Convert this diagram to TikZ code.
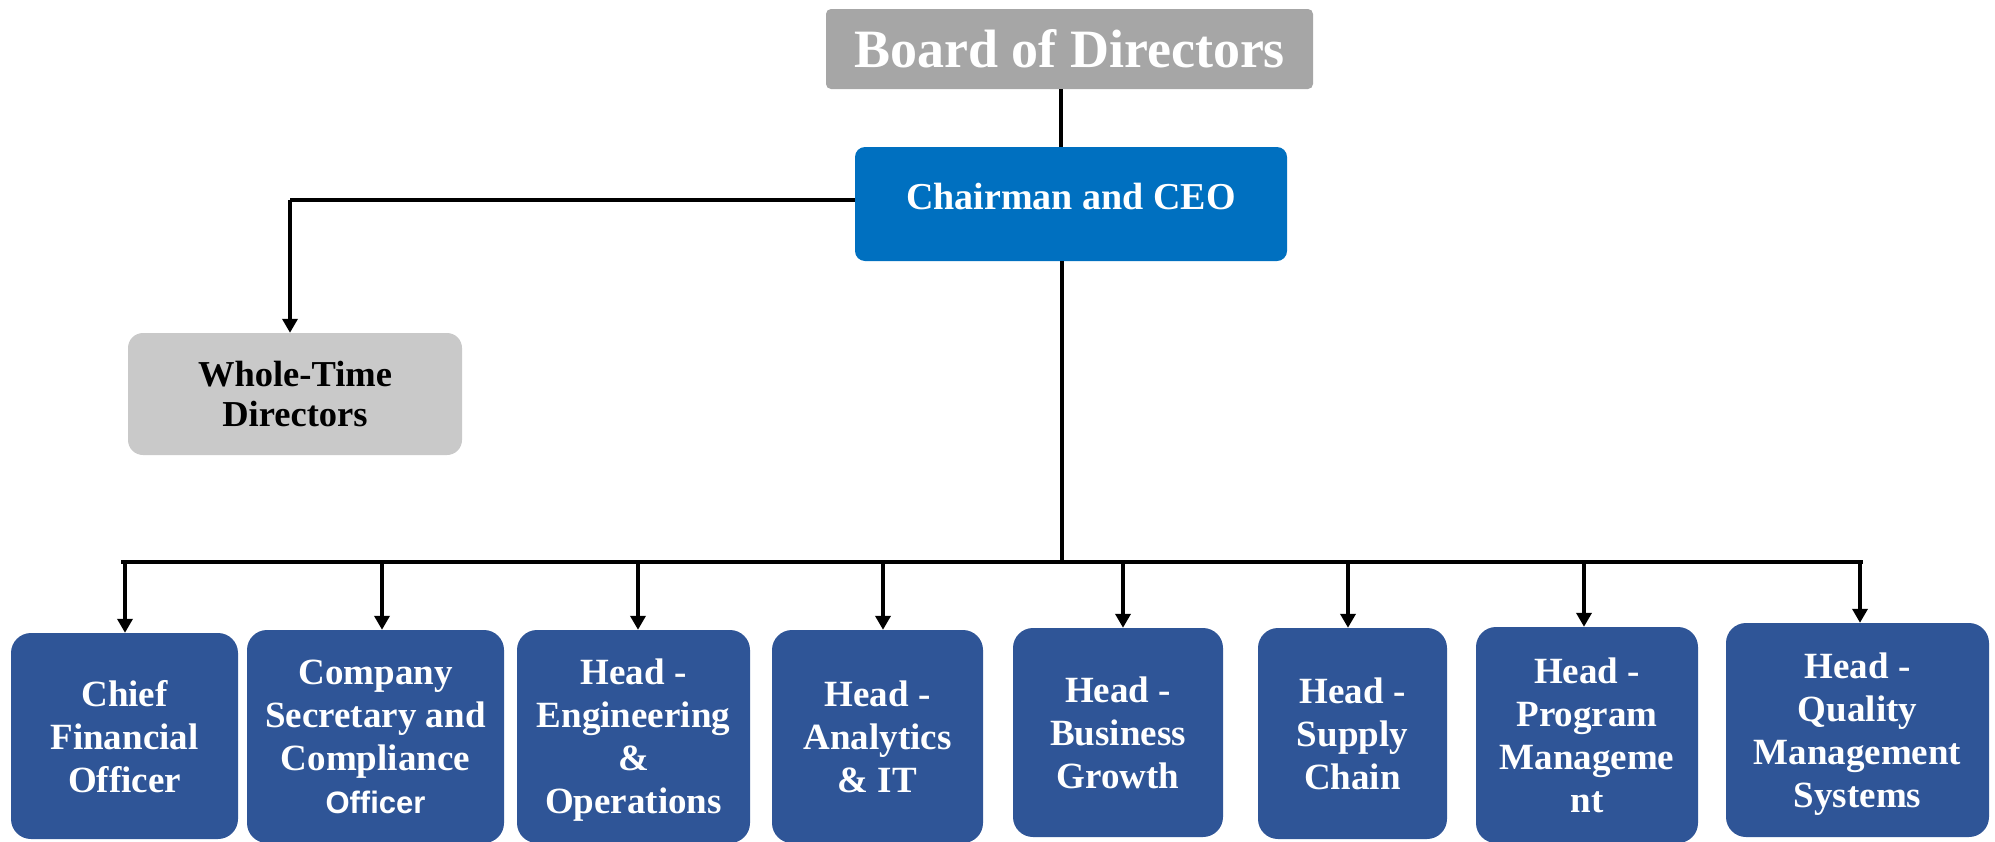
\documentclass[tikz,border=0pt]{standalone}
\usepackage{fontspec}
\setmainfont{Liberation Serif}
\newfontfamily\sansb{Liberation Sans}
\usetikzlibrary{arrows.meta}
\definecolor{bodgray}{HTML}{A6A6A6}
\definecolor{ceoblue}{HTML}{0070C0}
\definecolor{wtgray}{HTML}{C9C9C9}
\definecolor{boxblue}{HTML}{2F5597}
\begin{document}
\begin{tikzpicture}[x=1pt,y=-1pt,
  conn/.style={line width=3.5pt, black},
  arr/.style={conn, -{Triangle[width=15pt,length=14pt]}},
  role/.style={fill=boxblue, rounded corners=20pt, text=white, align=center, inner sep=0pt,
    text depth=0pt, font=\bfseries\fontsize{37}{43}\selectfont},
]
\useasboundingbox (0,0) rectangle (1995,841);
\clip (0,0) rectangle (1995,841);

% top
\node[fill=bodgray, rounded corners=5pt, minimum width=487pt, minimum height=80pt, inner sep=0pt,
  text=white, font=\bfseries\fontsize{54}{60}\selectfont] (bod) at (1069.5,49) {Board of Directors};
\node[fill=ceoblue, rounded corners=10pt, minimum width=432pt, minimum height=114pt, inner sep=0pt,
  text=white, text depth=16pt, font=\bfseries\fontsize{38}{44}\selectfont] (ceo) at (1071,204) {Chairman and CEO};
\node[fill=wtgray, rounded corners=15pt, minimum width=334pt, minimum height=122pt, inner sep=0pt,
  text=black, align=center, text depth=0pt, font=\bfseries\fontsize{36.5}{40}\selectfont] (wtd) at (295,394) {Whole-Time\\Directors};

% bottom row
\node[role, minimum width=227pt, minimum height=206pt] (cfo) at (124.5,736) {Chief\\Financial\\Officer};
\node[role, minimum width=257pt, minimum height=213pt] (cs) at (375.5,736.5) {Company\\Secretary and\\Compliance\\{\sansb\fontsize{31}{43}\selectfont Officer}};
\node[role, minimum width=233pt, minimum height=213pt] (eng) at (633.5,736.5) {Head -\\Engineering\\\&\\Operations};
\node[role, minimum width=211pt, minimum height=213pt] (ait) at (877.5,736.5) {Head -\\Analytics\\\& IT};
\node[role, minimum width=210pt, minimum height=209pt] (bg) at (1118,732.5) {Head -\\Business\\Growth};
\node[role, minimum width=189pt, minimum height=211pt] (sc) at (1352.5,733.5) {Head -\\Supply\\Chain};
\node[role, minimum width=222pt, minimum height=216pt] (pm) at (1587,735) {Head -\\Program\\Manageme\\nt};
\node[role, minimum width=263pt, minimum height=214pt] (qm) at (1857.5,730) {Head -\\Quality\\Management\\Systems};

% connectors
\coordinate (bodtap) at (1061,89);
\draw[conn] (bodtap) -- (bodtap |- ceo.north);
\coordinate (wtcorner) at (290,200);
\draw[conn] (ceo.west |- wtcorner) -- (wtcorner);
\draw[arr] (wtcorner) -- (wtcorner |- wtd.north);

\coordinate (busc) at (1062,562);
\coordinate (busl) at (123,562);
\coordinate (busr) at (1861,562);
\draw[conn] (ceo.south -| busc) -- (busc);
\draw[conn, line cap=rect] (busl) -- (busr);

\coordinate (b1) at (125,562);
\coordinate (b2) at (382,562);
\coordinate (b3) at (638,562);
\coordinate (b4) at (883,562);
\coordinate (b5) at (1123,562);
\coordinate (b6) at (1348,562);
\coordinate (b7) at (1584,562);
\coordinate (b8) at (1860,562);
\draw[arr] (b1) -- (b1 |- cfo.north);
\draw[arr] (b2) -- (b2 |- cs.north);
\draw[arr] (b3) -- (b3 |- eng.north);
\draw[arr] (b4) -- (b4 |- ait.north);
\draw[arr] (b5) -- (b5 |- bg.north);
\draw[arr] (b6) -- (b6 |- sc.north);
\draw[arr] (b7) -- (b7 |- pm.north);
\draw[arr] (b8) -- (b8 |- qm.north);
\end{tikzpicture}
\end{document}
